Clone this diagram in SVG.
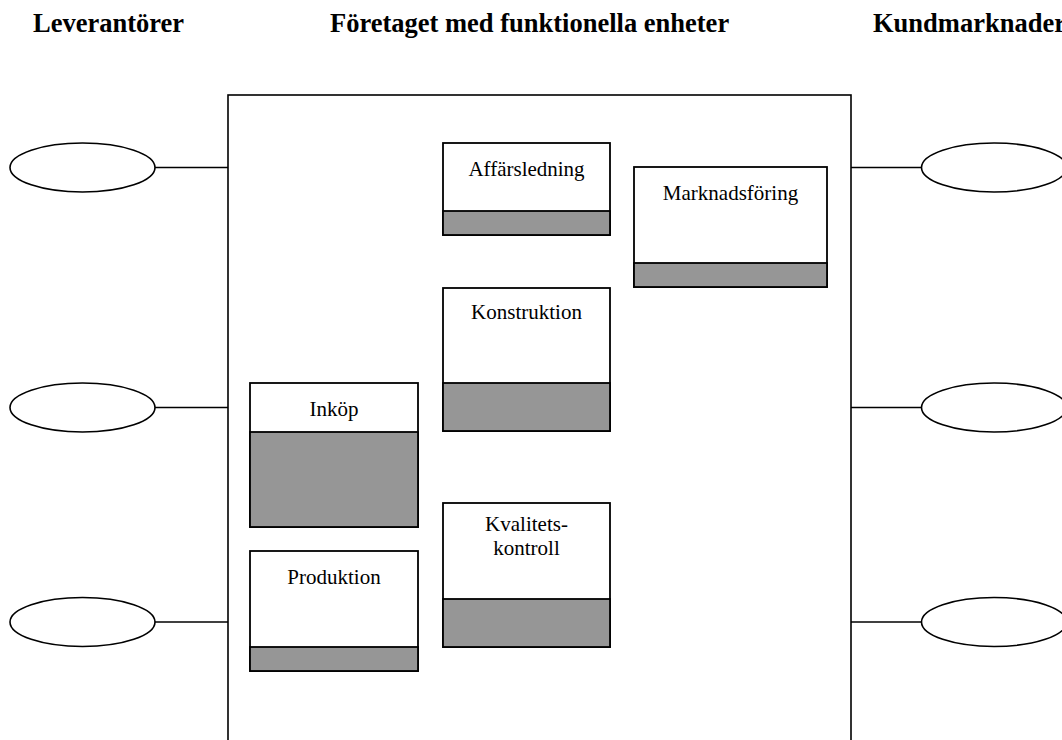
<svg xmlns="http://www.w3.org/2000/svg" width="1062" height="740" viewBox="0 0 1062 740">
  <style>
    .hdr { font-family: "Liberation Serif", "Times New Roman", serif; font-weight: bold; font-size: 26.5px; fill: #000; }
    .lbl { font-family: "Liberation Serif", "Times New Roman", serif; font-size: 21px; fill: #000; text-anchor: middle; }
    .edge { fill: none; stroke: #000; stroke-width: 1.6; }
    .oval { fill: #fff; stroke: #000; stroke-width: 1.6; }
    .unit { fill: #fff; stroke: #000; stroke-width: 1.8; }
    .band { fill: #969696; stroke: #000; stroke-width: 1.8; }
  </style>
  <rect width="1062" height="740" fill="#fff"/>

  <!-- column headings -->
  <g id="headings">
    <text class="hdr" x="33" y="32">Leverantörer</text>
    <text class="hdr" x="330" y="32">Företaget med funktionella enheter</text>
    <text class="hdr" x="873" y="32">Kundmarknader</text>
  </g>

  <!-- company frame (open at the bottom of the page) -->
  <g id="company">
    <rect class="edge" x="228" y="95" width="623" height="680"/>
  </g>

  <!-- links between the frame and the outside parties -->
  <g id="connectors">
    <line class="edge" x1="155" y1="167.5" x2="228" y2="167.5"/>
    <line class="edge" x1="155" y1="407.5" x2="228" y2="407.5"/>
    <line class="edge" x1="155" y1="622" x2="228" y2="622"/>
    <line class="edge" x1="851" y1="167.5" x2="921.5" y2="167.5"/>
    <line class="edge" x1="851" y1="407.5" x2="921.5" y2="407.5"/>
    <line class="edge" x1="851" y1="622" x2="921.5" y2="622"/>
  </g>

  <!-- suppliers -->
  <g id="supplier-1"><ellipse class="oval" cx="82.5" cy="167.5" rx="72.5" ry="24.5"/></g>
  <g id="supplier-2"><ellipse class="oval" cx="82.5" cy="407.5" rx="72.5" ry="24.5"/></g>
  <g id="supplier-3"><ellipse class="oval" cx="82.5" cy="622" rx="72.5" ry="24.5"/></g>

  <!-- customer markets -->
  <g id="market-1"><ellipse class="oval" cx="994" cy="167.5" rx="72.5" ry="24.5"/></g>
  <g id="market-2"><ellipse class="oval" cx="994" cy="407.5" rx="72.5" ry="24.5"/></g>
  <g id="market-3"><ellipse class="oval" cx="994" cy="622" rx="72.5" ry="24.5"/></g>

  <!-- functional units -->
  <g id="affarsledning">
    <rect class="unit" x="443" y="143" width="167" height="92"/>
    <rect class="band" x="443" y="211" width="167" height="24"/>
    <text class="lbl" x="526.5" y="176">Affärsledning</text>
  </g>
  <g id="marknadsforing">
    <rect class="unit" x="634" y="167" width="193" height="120"/>
    <rect class="band" x="634" y="263" width="193" height="24"/>
    <text class="lbl" x="730.5" y="200">Marknadsföring</text>
  </g>
  <g id="konstruktion">
    <rect class="unit" x="443" y="288" width="167" height="143"/>
    <rect class="band" x="443" y="383" width="167" height="48"/>
    <text class="lbl" x="526.5" y="319">Konstruktion</text>
  </g>
  <g id="inkop">
    <rect class="unit" x="250" y="383" width="168" height="144"/>
    <rect class="band" x="250" y="432" width="168" height="95"/>
    <text class="lbl" x="334" y="416">Inköp</text>
  </g>
  <g id="produktion">
    <rect class="unit" x="250" y="551" width="168" height="120"/>
    <rect class="band" x="250" y="647" width="168" height="24"/>
    <text class="lbl" x="334" y="584">Produktion</text>
  </g>
  <g id="kvalitetskontroll">
    <rect class="unit" x="443" y="503" width="167" height="144"/>
    <rect class="band" x="443" y="599" width="167" height="48"/>
    <text class="lbl" x="526.5" y="531">Kvalitets-</text>
    <text class="lbl" x="526.5" y="555">kontroll</text>
  </g>
</svg>
